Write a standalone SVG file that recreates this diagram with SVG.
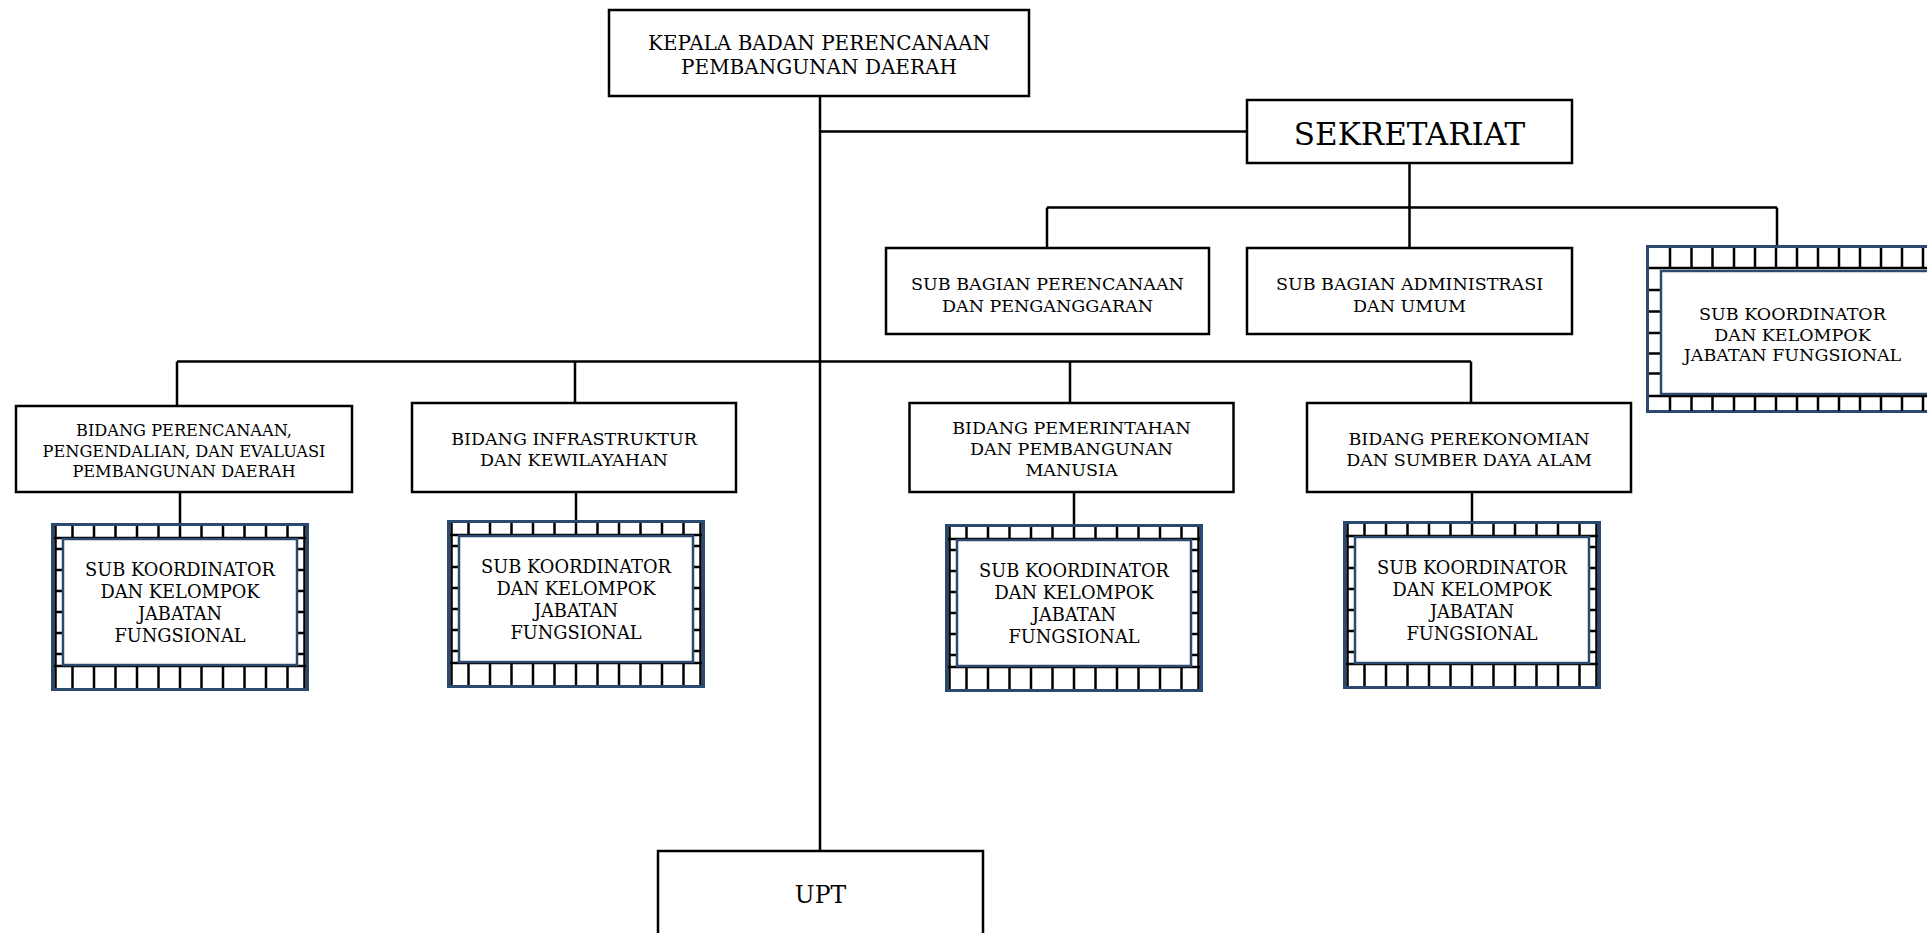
<svg xmlns="http://www.w3.org/2000/svg" xmlns:xlink="http://www.w3.org/1999/xlink" width="1927" height="933" viewBox="0 0 1927 933">
  <style>
    .box { fill: #ffffff; stroke: #000000; stroke-width: 2.5; }
    .conn { fill: none; stroke: #000000; stroke-width: 2.5; }
    .navy { fill: #ffffff; stroke: #2c4a70; stroke-width: 3; }
    .navy-in { fill: #ffffff; stroke: #2c4a70; stroke-width: 2.5; }
    .grid { fill: none; stroke: #000000; stroke-width: 2.5; }
    text { font-family: "DejaVu Serif", "Liberation Serif", serif; text-anchor: middle; fill: #000000; }
    .t20 { font-size: 20px; }
    .t17 { font-size: 17.5px; }
    .t18 { font-size: 17.8px; }
    .t16 { font-size: 16.2px; }
    .t30 { font-size: 31px; }
    .t24 { font-size: 23.5px; }
  </style>
  <defs>
    <!-- checkered frame used by the coordinator boxes (258 x 168) -->
    <g id="subk-frame">
      <rect class="navy" x="1.5" y="1.5" width="255" height="165"/>
      <path class="grid" d="M3 15H255 M3 143H255 M4.5 3V165 M253.5 3V165
        M21.5 3V15 M43 3V15 M64.5 3V15 M86 3V15 M107.5 3V15 M129 3V15 M150.5 3V15 M172 3V15 M193.5 3V15 M215 3V15 M236.5 3V15
        M21.5 143V165 M43 143V165 M64.5 143V165 M86 143V165 M107.5 143V165 M129 143V165 M150.5 143V165 M172 143V165 M193.5 143V165 M215 143V165 M236.5 143V165
        M4.5 26H12 M4.5 47H12 M4.5 68H12 M4.5 89H12 M4.5 110H12 M4.5 131H12
        M246 26H253.5 M246 47H253.5 M246 68H253.5 M246 89H253.5 M246 110H253.5 M246 131H253.5"/>
      <rect class="navy-in" x="12" y="16" width="234" height="126"/>
      <text class="t18" x="129" y="53">SUB KOORDINATOR</text>
      <text class="t18" x="129" y="75">DAN KELOMPOK</text>
      <text class="t18" x="129" y="97">JABATAN</text>
      <text class="t18" x="129" y="119">FUNGSIONAL</text>
    </g>
  </defs>

  <rect width="1927" height="933" fill="#ffffff"/>

  <!-- connectors -->
  <g id="connectors">
    <path class="conn" d="M820 96V851"/>
    <path class="conn" d="M820 131.5H1247"/>
    <path class="conn" d="M1409.5 163V248 M1047 207.5H1777 M1047 207.5V248 M1777 207.5V245"/>
    <path class="conn" d="M177 361.5H1471 M177 361.5V406 M575 361.5V403 M1070 361.5V403 M1471 361.5V403"/>
    <path class="conn" d="M180 492V523 M576 492V520 M1074 492V524 M1472 492V521"/>
  </g>

  <g id="kepala">
    <rect class="box" x="609" y="10" width="420" height="86"/>
    <text class="t20" x="819" y="50">KEPALA BADAN PERENCANAAN</text>
    <text class="t20" x="819" y="73.5">PEMBANGUNAN DAERAH</text>
  </g>

  <g id="sekretariat">
    <rect class="box" x="1247" y="100" width="325" height="63"/>
    <text class="t30" x="1409.5" y="145">SEKRETARIAT</text>
  </g>

  <g id="subbag-perencanaan">
    <rect class="box" x="886" y="248" width="323" height="86"/>
    <text class="t17" x="1047.5" y="290">SUB BAGIAN PERENCANAAN</text>
    <text class="t17" x="1047.5" y="312">DAN PENGANGGARAN</text>
  </g>

  <g id="subbag-administrasi">
    <rect class="box" x="1247" y="248" width="325" height="86"/>
    <text class="t17" x="1409.5" y="290">SUB BAGIAN ADMINISTRASI</text>
    <text class="t17" x="1409.5" y="312">DAN UMUM</text>
  </g>

  <!-- coordinator box under the secretariat, running past the right edge -->
  <g id="subk-sekretariat">
    <rect class="navy" x="1647.5" y="246.5" width="300" height="165"/>
    <path class="grid" d="M1649 268H1940 M1649 396H1940
      M1670 248V268 M1691.5 248V268 M1712.5 248V268 M1734 248V268 M1755 248V268 M1776 248V268 M1797 248V268 M1818 248V268 M1839 248V268 M1860 248V268 M1881 248V268 M1902 248V268 M1923 248V268
      M1670 396V411 M1691.5 396V411 M1712.5 396V411 M1734 396V411 M1755 396V411 M1776 396V411 M1797 396V411 M1818 396V411 M1839 396V411 M1860 396V411 M1881 396V411 M1902 396V411 M1923 396V411
      M1649 290H1661 M1649 311.5H1661 M1649 333H1661 M1649 353.5H1661 M1649 373.5H1661"/>
    <rect class="navy-in" x="1661" y="271" width="280" height="123"/>
    <text class="t17" x="1792.5" y="320">SUB KOORDINATOR</text>
    <text class="t17" x="1792.5" y="340.5">DAN KELOMPOK</text>
    <text class="t17" x="1792.5" y="361">JABATAN FUNGSIONAL</text>
  </g>

  <g id="bidang-perencanaan">
    <rect class="box" x="16" y="406" width="336" height="86"/>
    <text class="t16" x="184" y="436">BIDANG PERENCANAAN,</text>
    <text class="t16" x="184" y="456.5">PENGENDALIAN, DAN EVALUASI</text>
    <text class="t16" x="184" y="476.5">PEMBANGUNAN DAERAH</text>
  </g>

  <g id="bidang-infrastruktur">
    <rect class="box" x="412" y="403" width="324" height="89"/>
    <text class="t17" x="574" y="445">BIDANG INFRASTRUKTUR</text>
    <text class="t17" x="574" y="466">DAN KEWILAYAHAN</text>
  </g>

  <g id="bidang-pemerintahan">
    <rect class="box" x="909.5" y="403" width="324" height="89"/>
    <text class="t17" x="1071.5" y="434">BIDANG PEMERINTAHAN</text>
    <text class="t17" x="1071.5" y="455">DAN PEMBANGUNAN</text>
    <text class="t17" x="1071.5" y="476">MANUSIA</text>
  </g>

  <g id="bidang-perekonomian">
    <rect class="box" x="1307" y="403" width="324" height="89"/>
    <text class="t17" x="1469" y="445">BIDANG PEREKONOMIAN</text>
    <text class="t17" x="1469" y="466">DAN SUMBER DAYA ALAM</text>
  </g>

  <g id="subk-perencanaan">
    <use xlink:href="#subk-frame" href="#subk-frame" transform="translate(51 523)"/>
  </g>
  <g id="subk-infrastruktur">
    <use xlink:href="#subk-frame" href="#subk-frame" transform="translate(447 520)"/>
  </g>
  <g id="subk-pemerintahan">
    <use xlink:href="#subk-frame" href="#subk-frame" transform="translate(945 524)"/>
  </g>
  <g id="subk-perekonomian">
    <use xlink:href="#subk-frame" href="#subk-frame" transform="translate(1343 521)"/>
  </g>

  <g id="upt">
    <rect class="box" x="658" y="851" width="325" height="120"/>
    <text class="t24" x="820.5" y="903">UPT</text>
  </g>
</svg>
